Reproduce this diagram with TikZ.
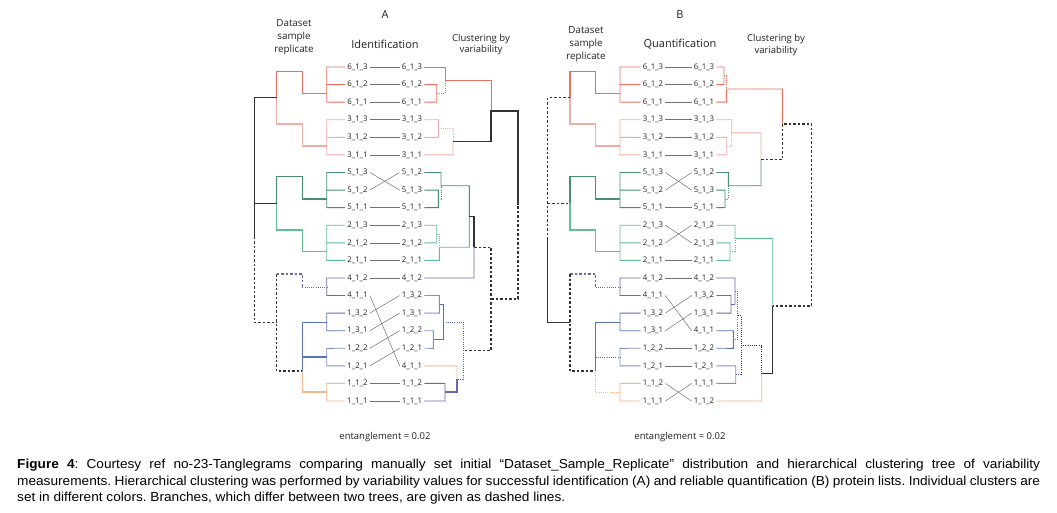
\documentclass[tikz,border=0pt]{standalone}
\usepackage{fontspec}
\setmainfont{Open Sans}
\newfontfamily\capfont{Liberation Sans}[FakeStretch=1.05]
\frenchspacing
\definecolor{red6}{HTML}{E8705F}
\definecolor{pink3}{HTML}{EBAFA7}
\definecolor{grn5}{HTML}{468F70}
\definecolor{grn2}{HTML}{62BE97}
\definecolor{pur4}{HTML}{6C68A6}
\definecolor{blu1}{HTML}{5872B2}
\definecolor{blu2}{HTML}{8291C2}
\definecolor{org1}{HTML}{F0B88C}
\definecolor{blk}{HTML}{333333}
\definecolor{txt}{HTML}{222222}
\definecolor{tang}{HTML}{707070}
\newcommand\lefttree[1]{%
\draw[red6,tr] (#1L0.west) -- (326.7,67) -- (326.7,102.2) -- (#1L2.west);
\draw[red6,tr] (#1L1.west) -- (326.7,84.6);
\draw[pink3,tr] (#1L3.west) -- (326.7,119.7) -- (326.7,154.9) -- (#1L5.west);
\draw[pink3,tr] (#1L4.west) -- (326.7,137.3);
\draw[grn5,tr] (#1L6.west) -- (326.7,172.5) -- (326.7,207.6) -- (#1L8.west);
\draw[grn5,tr] (#1L7.west) -- (326.7,190.1);
\draw[grn2,tr] (#1L9.west) -- (326.7,225.2) -- (326.7,260.4) -- (#1L11.west);
\draw[grn2,tr] (#1L10.west) -- (326.7,242.8);
\draw[pur4,tr] (#1L12.west) -- (326.7,278) -- (326.7,295.5) -- (#1L13.west);
\draw[blu1,tr] (#1L14.west) -- (326.7,313.1) -- (326.7,330.7) -- (#1L15.west);
\draw[blu2,tr] (#1L16.west) -- (326.7,348.3) -- (326.7,365.9) -- (#1L17.west);
\draw[org1,tr] (#1L18.west) -- (326.7,383.4) -- (326.7,401) -- (#1L19.west);
\draw[red6,tk] (276.7,97.7) -- (276.7,71.7) -- (302.3,71.7) -- (302.3,93.4) -- (326.7,93.4);
\draw[pink3,tk] (276.7,97.7) -- (276.7,124) -- (302.3,124) -- (302.3,146.1) -- (326.7,146.1);
\draw[grn5,tk] (276.7,203.3) -- (276.7,176.7) -- (302.3,176.7) -- (302.3,198.9) -- (326.7,198.9);
\draw[grn2,tk] (276.7,203.3) -- (276.7,230) -- (302.3,230) -- (302.3,251.6) -- (326.7,251.6);
\draw[pur4,dsh] (276.7,274) -- (302.3,274) -- (302.3,287.3);
\draw[pur4,dt] (302.3,287.3) -- (326.7,287.3);
\draw[blk,dsh] (276.7,274) -- (276.7,371) -- (302.3,371);
\draw[blu1,tk] (302.3,371) -- (302.3,322.3) -- (326.7,322.3);
}
\begin{document}
\begin{tikzpicture}[x=1pt,y=-1pt,
  tr/.style={line width=0.9pt},
  tk/.style={line width=1.5pt},
  dsh/.style={line width=1.2pt,dash pattern=on 2.5pt off 2pt},
  dt/.style={line width=0.8pt,dash pattern=on 1pt off 1.2pt},
  lab/.style={font=\fontsize{7.8}{8}\selectfont, text=txt, inner sep=2pt},
  tg/.style={draw=tang, line width=0.5pt},
  hd/.style={font=\fontsize{9.8}{13}\selectfont, align=center, text=txt},
  hc/.style={font=\fontsize{9.5}{11.5}\selectfont, align=center, text=txt},
  ti/.style={font=\fontsize{11}{12}\selectfont, text=txt}]
\fill[white] (0,0) rectangle (1057,512);
\useasboundingbox (0,0) rectangle (1057,512);
% headers
\node[ti] (tA) at (385,15) {A};
\node[ti] (tB) at (680,15) {B};
\node[hd] (dsA) at (294,37) {Dataset\\sample\\replicate};
\node[hd] (dsB) at (586,44.5) {Dataset\\sample\\replicate};
\node[ti] (idA) at (385,44) {Identification};
\node[ti] (qB) at (680,44) {Quantification};
\node[hc] (clA) at (481,44.5) {Clustering by\\variability};
\node[hc] (clB) at (776,45) {Clustering by\\variability};
\node[hc] (enA) at (385,437) {entanglement = 0.02};
\node[hc] (enB) at (680,437) {entanglement = 0.02};
% labels
\foreach \a/\b/\c [count=\i from 0] in {6/1/3,6/1/2,6/1/1,3/1/3,3/1/2,3/1/1,5/1/3,5/1/2,5/1/1,2/1/3,2/1/2,2/1/1,4/1/2,4/1/1,1/3/2,1/3/1,1/2/2,1/2/1,1/1/2,1/1/1}{
  \node[lab] (aL\i) at (357.5,{67+17.58*\i}) {\a\_\b\_\c};
  \node[lab] (bL\i) at (653,{67+17.58*\i}) {\a\_\b\_\c};}
\foreach \a/\b/\c [count=\i from 0] in {6/1/3,6/1/2,6/1/1,3/1/3,3/1/2,3/1/1,5/1/2,5/1/3,5/1/1,2/1/3,2/1/2,2/1/1,4/1/2,1/3/2,1/3/1,1/2/2,1/2/1,4/1/1,1/1/2,1/1/1}
  \node[lab] (aR\i) at (412,{67+17.58*\i}) {\a\_\b\_\c};
\foreach \a/\b/\c [count=\i from 0] in {6/1/3,6/1/2,6/1/1,3/1/3,3/1/2,3/1/1,5/1/2,5/1/3,5/1/1,2/1/2,2/1/3,2/1/1,4/1/2,1/3/2,1/3/1,4/1/1,1/2/2,1/2/1,1/1/1,1/1/2}
  \node[lab] (bR\i) at (704,{67+17.58*\i}) {\a\_\b\_\c};
% tangle lines
\foreach \i/\j in {0/0,1/1,2/2,3/3,4/4,5/5,6/7,7/6,8/8,9/9,10/10,11/11,12/12,13/17,14/13,15/14,16/15,17/16,18/18,19/19}
  \draw[tg] (aL\i.east) -- (aR\j.west);
\foreach \i/\j in {0/0,1/1,2/2,3/3,4/4,5/5,6/7,7/6,8/8,9/10,10/9,11/11,12/12,13/15,14/13,15/14,16/16,17/17,18/19,19/18}
  \draw[tg] (bL\i.east) -- (bR\j.west);
% ---- left tree A
\lefttree{a}
\draw[blk,tk] (276.7,97.7) -- (254.3,97.7) -- (254.3,236.6);
\draw[blk,tk] (254.3,203.3) -- (276.7,203.3);
\draw[blk,dsh] (254.3,236.6) -- (254.3,322.7) -- (276.7,322.7);
\draw[blu1,tk] (302.3,357.1) -- (326.7,357.1);
\draw[org1,tk] (302.3,371) -- (302.3,392.2) -- (326.7,392.2);
% ---- left tree B
\begin{scope}[xshift=293.3pt]
\lefttree{b}
\draw[blk,dsh] (276.7,97.7) -- (254.3,97.7) -- (254.3,236.6);
\draw[blk,dsh] (254.3,203.3) -- (276.7,203.3);
\draw[blk,tk] (254.3,236.6) -- (254.3,322.7) -- (276.7,322.7);
\draw[blu1,dt] (302.3,357.1) -- (326.7,357.1);
\draw[org1,dt] (302.3,371) -- (302.3,392.2) -- (326.7,392.2);
\end{scope}
% ---- right tree A
\draw[red6,tr] (aR0.east) -- (445,67) -- (445,80.2) -- (491,80.2) -- (491,110.9);
\draw[red6,tr] (aR1.east) -- (436.7,84.6) -- (436.7,102.2) -- (aR2.east);
\draw[red6,dt] (436.7,93.4) -- (445,93.4) -- (445,80.2);
\draw[pink3,tr] (aR3.east) -- (438.3,119.7) -- (438.3,137.3) -- (aR4.east);
\draw[pink3,dt] (438.3,128.5) -- (453,128.5) -- (453,141.7);
\draw[pink3,tr] (aR5.east) -- (453,154.9) -- (453,141.7);
\draw[blk,tk] (453,141.7) -- (491,141.7) -- (491,110.9) -- (518,110.9) -- (518,205);
\draw[grn5,tr] (aR6.east) -- (441,172.5) -- (441,185.7) -- (469.3,185.7) -- (469.3,216.4);
\draw[grn5,tr] (aR7.east) -- (438.3,190.1) -- (438.3,207.6) -- (aR8.east);
\draw[grn5,dt] (438.3,198.9) -- (441,198.9) -- (441,185.7);
\draw[grn2,tr] (aR9.east) -- (436.7,225.2) -- (436.7,242.8) -- (aR10.east);
\draw[grn2,dt] (436.7,234) -- (439.3,234) -- (439.3,247.2);
\draw[grn2,tr] (aR11.east) -- (439.3,260.4) -- (439.3,247.2) -- (469.3,247.2) -- (469.3,216.4);
\draw[blk,tk] (469.3,216.4) -- (474,216.4) -- (474,247.2);
\draw[pur4,tr] (aR12.east) -- (474,278) -- (474,247.2);
\draw[blk,dsh] (474,247.2) -- (491,247.2) -- (491,350.5) -- (463.3,350.5);
\draw[blk,dsh] (491,298.9) -- (518,298.9) -- (518,205);
\draw[blu2,tr] (aR13.east) -- (439.3,295.5) -- (439.3,313.1) -- (aR14.east);
\draw[blu1,tr] (439.3,304.3) -- (443.3,304.3) -- (443.3,339.5) -- (433.3,339.5);
\draw[blu2,tr] (aR15.east) -- (433.3,330.7) -- (433.3,348.3) -- (aR16.east);
\draw[blu1,dt] (443.3,321.9) -- (463.3,321.9) -- (463.3,379) -- (457,379);
\draw[org1,tr] (aR17.east) -- (457,365.9) -- (457,379);
\draw[pur4,tr] (aR18.east) -- (445,383.4) -- (445,401) -- (aR19.east);
\draw[pur4,tk] (445,392.2) -- (457,392.2) -- (457,379);
% ---- right tree B
\draw[red6,tr] (bR0.east) -- (724,67) -- (724,84.6) -- (bR1.east);
\draw[red6,dt] (724,75.8) -- (726.5,75.8) -- (726.5,89);
\draw[red6,tr] (bR2.east) -- (726.5,102.2) -- (726.5,89) -- (782.3,89) -- (782.3,124);
\draw[pink3,tr] (bR3.east) -- (731.7,119.7) -- (731.7,132.9) -- (761,132.9) -- (761,159.4);
\draw[pink3,tr] (bR4.east) -- (726.7,137.3) -- (726.7,154.9) -- (bR5.east);
\draw[pink3,dt] (726.7,146.1) -- (731.7,146.1) -- (731.7,132.9);
\draw[grn5,tr] (bR6.east) -- (728.3,172.5) -- (728.3,185.7) -- (761,185.7) -- (761,159.4);
\draw[grn5,tr] (bR7.east) -- (725,190.1) -- (725,207.6) -- (bR8.east);
\draw[grn5,dt] (725,198.9) -- (728.3,198.9) -- (728.3,185.7);
\draw[blk,dsh] (761,159.4) -- (782.3,159.4) -- (782.3,124) -- (811.7,124) -- (811.7,306) -- (772.7,306);
\draw[grn2,tr] (bR9.east) -- (735,225.2) -- (735,238.4) -- (772.7,238.4) -- (772.7,306);
\draw[grn2,tr] (bR10.east) -- (730,242.8) -- (730,260.4) -- (bR11.east);
\draw[grn2,dt] (730,251.6) -- (735,251.6) -- (735,238.4);
\draw[blk,tk] (772.7,306) -- (772.7,373.5) -- (761.7,373.5);
\draw[pur4,tr] (bR12.east) -- (735,278) -- (735,304.3);
\draw[pur4,tr] (bR13.east) -- (731,295.5) -- (731,313.1) -- (bR14.east);
\draw[pur4,tr] (731,304.3) -- (735,304.3);
\draw[blu1,dt] (735,291.2) -- (737.7,291.2) -- (737.7,339.5) -- (733.3,339.5);
\draw[blu1,tr] (bR15.east) -- (733.3,330.7) -- (733.3,348.3) -- (bR16.east);
\draw[blk,dt] (737.7,315.4) -- (741,315.4) -- (741,374.7);
\draw[blk,dt] (741,345.7) -- (761.7,345.7) -- (761.7,373.5);
\draw[blu2,tr] (bR17.east) -- (735.7,365.9) -- (735.7,383.4) -- (bR18.east);
\draw[blu1,dt] (735.7,374.7) -- (741,374.7);
\draw[org1,tr] (bR19.east) -- (761.7,401) -- (761.7,373.5);
% caption
\node[anchor=north west, inner sep=0pt, align=left,
  font=\capfont\fontsize{13}{16.6}\selectfont, text=black] (cap) at (17,459)
{\makebox[1023pt][s]{\textbf{Figure 4}: Courtesy ref no-23-Tanglegrams comparing manually set initial “Dataset\_Sample\_Replicate” distribution and hierarchical clustering tree of variability}\\
\makebox[1023pt][s]{measurements. Hierarchical clustering was performed by variability values for successful identification (A) and reliable quantification (B) protein lists. Individual clusters are}\\
set in different colors. Branches, which differ between two trees, are given as dashed lines.};
\end{tikzpicture}
\end{document}
